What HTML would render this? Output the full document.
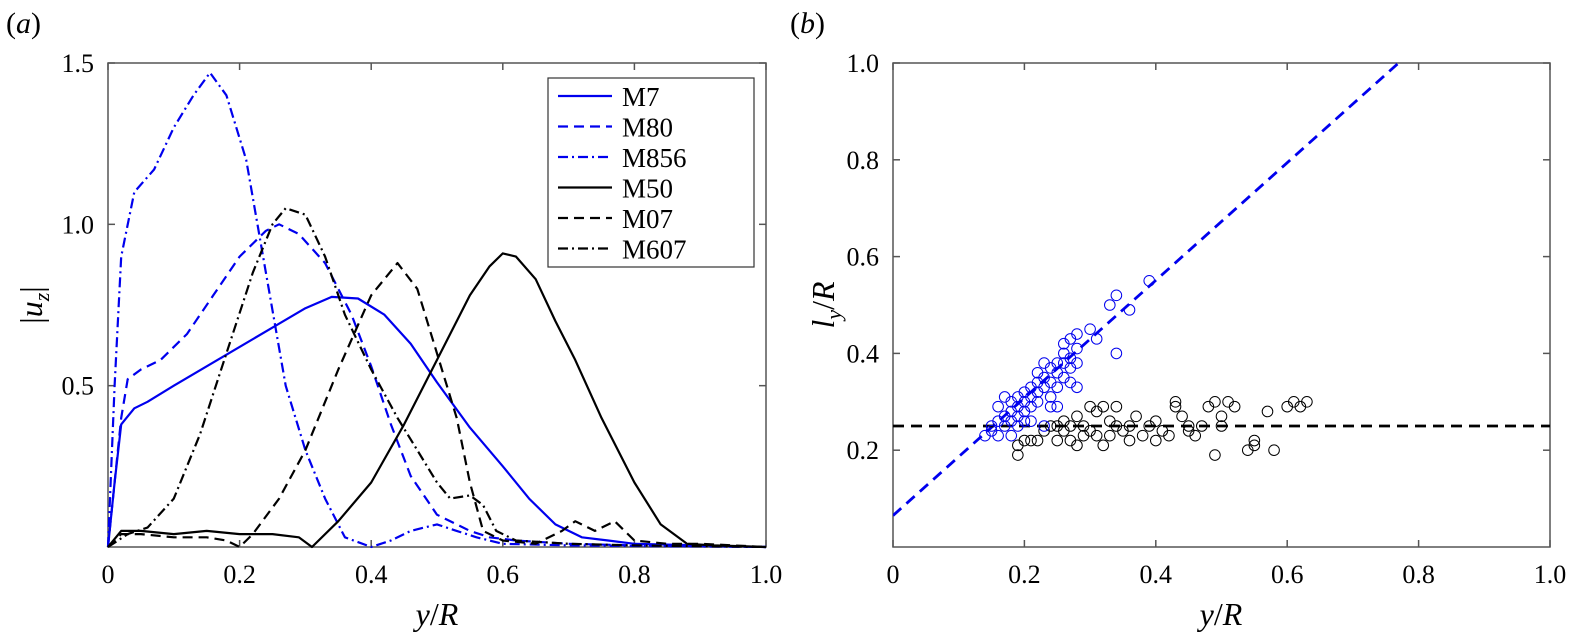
<!DOCTYPE html>
<html><head><meta charset="utf-8"><style>
body{margin:0;background:#fff}
svg{display:block}
svg text{font-family:"Liberation Serif","DejaVu Serif","Times New Roman",serif}
</style></head><body>
<svg id="fig" width="1569" height="637" viewBox="0 0 1569 637" xmlns="http://www.w3.org/2000/svg" font-family="Liberation Serif, DejaVu Serif, serif"></svg>
<script>
// Panel (a) data
const catsA = ["M7","M80","M856","M50","M07","M607"];
const m7x = [0,0.01,0.02,0.04,0.06,0.1,0.15,0.2,0.25,0.3,0.34,0.38,0.42,0.46,0.5,0.55,0.6,0.64,0.68,0.72,0.76,0.8,0.9,1.0];
const m7y = [0,0.2,0.38,0.43,0.45,0.5,0.56,0.62,0.68,0.74,0.775,0.77,0.72,0.63,0.51,0.37,0.25,0.15,0.07,0.03,0.02,0.01,0.005,0];
const m80x = [0,0.02,0.03,0.05,0.08,0.12,0.16,0.2,0.24,0.26,0.29,0.33,0.37,0.4,0.43,0.46,0.5,0.53,0.55,0.58,0.62,0.7,0.8,1];
const m80y = [0,0.4,0.52,0.55,0.58,0.66,0.78,0.9,0.98,1.0,0.97,0.88,0.72,0.56,0.38,0.22,0.1,0.07,0.05,0.03,0.02,0.01,0.005,0];
const m856x = [0,0.01,0.02,0.04,0.07,0.1,0.13,0.155,0.18,0.21,0.24,0.27,0.3,0.33,0.36,0.4,0.43,0.46,0.5,0.53,0.56,0.6,0.7,1];
const m856y = [0,0.5,0.9,1.1,1.17,1.3,1.4,1.47,1.4,1.2,0.85,0.5,0.3,0.15,0.03,0,0.02,0.05,0.07,0.05,0.03,0.01,0.005,0];
const m50x = [0,0.02,0.05,0.1,0.15,0.2,0.25,0.29,0.31,0.35,0.4,0.45,0.5,0.55,0.58,0.6,0.62,0.65,0.68,0.71,0.75,0.8,0.84,0.88,0.92,1];
const m50y = [0,0.05,0.05,0.04,0.05,0.04,0.04,0.03,0,0.08,0.2,0.38,0.58,0.78,0.87,0.91,0.9,0.83,0.7,0.58,0.4,0.2,0.07,0.01,0.005,0];
const m07x = [0,0.02,0.05,0.1,0.15,0.18,0.2,0.22,0.26,0.3,0.35,0.4,0.44,0.47,0.5,0.53,0.55,0.57,0.6,0.65,0.69,0.71,0.74,0.77,0.8,0.85,0.9,1];
const m07y = [0,0.04,0.04,0.03,0.03,0.02,0,0.04,0.15,0.3,0.55,0.78,0.88,0.8,0.6,0.4,0.2,0.05,0.02,0.01,0.05,0.08,0.05,0.08,0.02,0.01,0.01,0];
const m607x = [0,0.03,0.06,0.1,0.14,0.18,0.22,0.25,0.27,0.3,0.33,0.36,0.4,0.44,0.47,0.5,0.52,0.55,0.57,0.59,0.62,0.7,0.8,1];
const m607y = [0,0.04,0.06,0.15,0.35,0.6,0.85,1.0,1.05,1.03,0.9,0.72,0.55,0.4,0.3,0.2,0.15,0.16,0.13,0.05,0.02,0.01,0.005,0];
const xTicks = [0,0.2,0.4,0.6,0.8,1.0];
const xTickLabels = ["0","0.2","0.4","0.6","0.8","1.0"];
const yTicksA = [0.5,1.0,1.5];
const yTickLabelsA = ["0.5","1.0","1.5"];
// Panel (b) data
const blueX = [0.14,0.15,0.15,0.16,0.16,0.17,0.17,0.18,0.18,0.18,0.19,0.19,0.19,0.2,0.2,0.2,0.21,0.21,0.21,0.22,0.22,0.22,0.23,0.23,0.24,0.24,0.24,0.25,0.25,0.25,0.26,0.26,0.26,0.27,0.27,0.27,0.28,0.28,0.28,0.3,0.31,0.33,0.34,0.34,0.36,0.39,0.17,0.19,0.21,0.23,0.24,0.18,0.2,0.22,0.26,0.27,0.28,0.23,0.25,0.16];
const blueY = [0.23,0.24,0.25,0.23,0.26,0.27,0.25,0.28,0.3,0.26,0.31,0.29,0.27,0.3,0.32,0.28,0.31,0.33,0.29,0.34,0.32,0.3,0.35,0.33,0.37,0.34,0.31,0.36,0.38,0.29,0.38,0.4,0.35,0.43,0.39,0.37,0.44,0.41,0.33,0.45,0.43,0.5,0.52,0.4,0.49,0.55,0.31,0.25,0.26,0.25,0.29,0.23,0.26,0.36,0.42,0.34,0.38,0.38,0.33,0.29];
const blackX = [0.19,0.19,0.2,0.21,0.22,0.23,0.24,0.25,0.26,0.26,0.27,0.27,0.28,0.28,0.29,0.29,0.3,0.3,0.31,0.31,0.32,0.32,0.33,0.33,0.34,0.34,0.35,0.36,0.37,0.38,0.39,0.4,0.4,0.41,0.42,0.43,0.43,0.44,0.45,0.46,0.47,0.48,0.49,0.49,0.5,0.5,0.51,0.52,0.54,0.55,0.55,0.57,0.58,0.6,0.61,0.62,0.63,0.25,0.36,0.45];
const blackY = [0.19,0.21,0.22,0.22,0.22,0.24,0.25,0.22,0.26,0.24,0.25,0.22,0.21,0.27,0.25,0.23,0.29,0.24,0.28,0.23,0.29,0.21,0.26,0.23,0.29,0.25,0.24,0.22,0.27,0.23,0.25,0.26,0.22,0.24,0.23,0.3,0.29,0.27,0.25,0.23,0.25,0.29,0.19,0.3,0.25,0.27,0.3,0.29,0.2,0.22,0.21,0.28,0.2,0.29,0.3,0.29,0.3,0.25,0.25,0.24];
const fitBlue = [0.065,1.215]; // intercept, slope
const fitBlack = 0.25;
const yTicksB = [0.2,0.4,0.6,0.8,1.0];
const yTickLabelsB = ["0.2","0.4","0.6","0.8","1.0"];

const NS="http://www.w3.org/2000/svg";
const svg=document.getElementById('fig');
function mk(tag,attrs,parent){const e=document.createElementNS(NS,tag);for(const k in attrs)e.setAttribute(k,attrs[k]);(parent||svg).appendChild(e);return e;}

const yTop=63,yBot=547;
const axA={x0:108,x1:766,ymax:1.5};
const axB={x0:893,x1:1550,ymax:1.0};
function sx(ax,v){return ax.x0+v*(ax.x1-ax.x0);}
function sy(ax,v){return yBot-v/ax.ymax*(yBot-yTop);}

function frame(ax,yT,yL,name){
  const g=mk('g',{});
  
  
  const r=mk('rect',{x:ax.x0,y:yTop,width:ax.x1-ax.x0,height:yBot-yTop,fill:'none',stroke:'#555','stroke-width':1.5},g);
  
  
  xTicks.forEach((v,i)=>{
    const x=sx(ax,v);
    mk('line',{x1:x,x2:x,y1:yBot,y2:yBot-7,stroke:'#555','stroke-width':1.5},g);
    mk('line',{x1:x,x2:x,y1:yTop,y2:yTop+7,stroke:'#555','stroke-width':1.5},g);
    const t=mk('text',{x:x,y:yBot+36,'font-size':26,'text-anchor':'middle'},g);
    t.textContent=xTickLabels[i];
    
    
  });
  yT.forEach((v,i)=>{
    const y=sy(ax,v);
    mk('line',{x1:ax.x0,x2:ax.x0+7,y1:y,y2:y,stroke:'#555','stroke-width':1.5},g);
    mk('line',{x1:ax.x1,x2:ax.x1-7,y1:y,y2:y,stroke:'#555','stroke-width':1.5},g);
    const t=mk('text',{x:ax.x0-14,y:y+9,'font-size':26,'text-anchor':'end'},g);
    t.textContent=yL[i];
    
    
  });
}
frame(axA,yTicksA,yTickLabelsA,'panel-a');
frame(axB,yTicksB,yTickLabelsB,'panel-b');

function txt(s,attrs,name){const t=mk('text',attrs);t.innerHTML=s;return t;}
txt('(<tspan font-style="italic">a</tspan>)',{x:6,y:33,'font-size':30},'panel-a-label');
txt('(<tspan font-style="italic">b</tspan>)',{x:790,y:33,'font-size':30},'panel-b-label');
txt('<tspan font-style="italic">y</tspan>/<tspan font-style="italic">R</tspan>',{x:437,y:625,'font-size':32,'text-anchor':'middle'},'x-axis-title-a');
txt('<tspan font-style="italic">y</tspan>/<tspan font-style="italic">R</tspan>',{x:1221,y:625,'font-size':32,'text-anchor':'middle'},'x-axis-title-b');
txt('|<tspan font-style="italic">u</tspan><tspan font-style="italic" font-size="22" dy="7">z</tspan><tspan dy="-7">|</tspan>',{x:0,y:0,'font-size':32,'text-anchor':'middle',transform:'translate(42,305) rotate(-90)'},'y-axis-title-a');
txt('<tspan font-style="italic">l</tspan><tspan font-style="italic" font-size="22" dy="7">y</tspan><tspan dy="-7">/</tspan><tspan font-style="italic">R</tspan>',{x:0,y:0,'font-size':32,'text-anchor':'middle',transform:'translate(834,305) rotate(-90)'},'y-axis-title-b');

const styles=[
 {x:m7x,y:m7y,c:'#0000ee',d:''},
 {x:m80x,y:m80y,c:'#0000ee',d:'10,6'},
 {x:m856x,y:m856y,c:'#0000ee',d:'10,4,2,4'},
 {x:m50x,y:m50y,c:'#000',d:''},
 {x:m07x,y:m07y,c:'#000',d:'10,6'},
 {x:m607x,y:m607y,c:'#000',d:'10,4,2,4'}
];
styles.forEach((s,i)=>{
  const pts=s.x.map((v,j)=>sx(axA,v).toFixed(1)+','+sy(axA,s.y[j]).toFixed(1)).join(' ');
  const p=mk('polyline',{points:pts,fill:'none',stroke:s.c,'stroke-width':2.2,'stroke-dasharray':s.d||'none','stroke-linejoin':'round'});
  
  
});
const lg=mk('g',{});


mk('rect',{x:548,y:78,width:206,height:189,fill:'#fff',stroke:'#333','stroke-width':1.2},lg);
styles.forEach((s,i)=>{
  const y=96+i*30.5;
  const e=mk('g',{},lg);
  
  
  mk('line',{x1:558,x2:612,y1:y,y2:y,stroke:s.c,'stroke-width':2.2,'stroke-dasharray':s.d||'none'},e);
  const t=mk('text',{x:622,y:y+10,'font-size':27},e);
  t.textContent=catsA[i];
});

const clip=mk('clipPath',{id:'cb'});
mk('rect',{x:axB.x0,y:yTop,width:axB.x1-axB.x0,height:yBot-yTop},clip);
const fb=mk('line',{x1:sx(axB,0),y1:sy(axB,fitBlue[0]),x2:sx(axB,1),y2:sy(axB,fitBlue[0]+fitBlue[1]),stroke:'#0000ee','stroke-width':2.8,'stroke-dasharray':'11,7','clip-path':'url(#cb)'});


const fk=mk('line',{x1:sx(axB,0),y1:sy(axB,fitBlack),x2:sx(axB,1),y2:sy(axB,fitBlack),stroke:'#000','stroke-width':2.8,'stroke-dasharray':'11,7'});


blackX.forEach((v,i)=>{
  const c=mk('circle',{cx:sx(axB,v),cy:sy(axB,blackY[i]),r:5.3,fill:'none',stroke:'#000','stroke-width':1});
  
  
});
blueX.forEach((v,i)=>{
  const c=mk('circle',{cx:sx(axB,v),cy:sy(axB,blueY[i]),r:5.3,fill:'none',stroke:'#0000ee','stroke-width':1});
  
  
});
</script>
</body></html>
